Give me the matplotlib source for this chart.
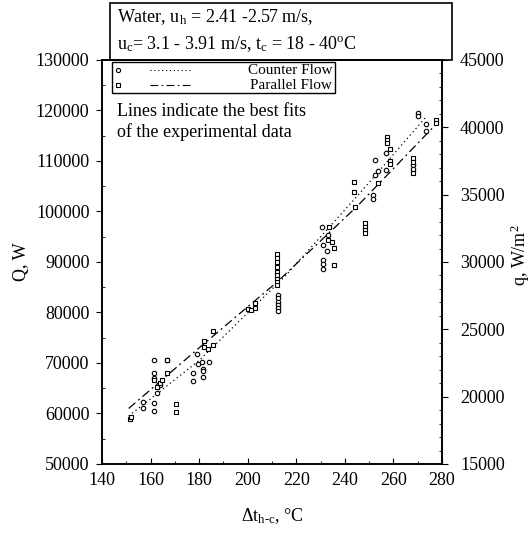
import matplotlib
matplotlib.use("Agg")
import matplotlib.pyplot as plt
from matplotlib.patches import Rectangle
from matplotlib.lines import Line2D

plt.rcParams['font.family'] = ['Liberation Serif', 'DejaVu Serif']
plt.rcParams['mathtext.fontset'] = 'custom'
plt.rcParams['mathtext.rm'] = 'Liberation Serif'
plt.rcParams['mathtext.it'] = 'Liberation Serif:italic'

# ---- data ----
counter_dt = [156.8, 156.8, 161.5, 161.5, 161.5, 161.5, 161.5, 166.7, 162.6, 164.0,
              177.5, 177.5, 179.0, 179.4, 181.2, 183.9, 181.5, 181.5, 181.6,
              212.4, 212.4, 212.4, 212.4, 212.4, 212.4,
              230.4, 230.8, 230.8, 230.8, 230.8, 233.1, 232.6,
              252.6, 253.5, 252.4, 251.4, 251.4, 257.0, 257.0, 268.0, 268.0,
              270.3, 270.3, 273.5, 273.5]
counter_Q = [62300, 61000, 70500, 68100, 62100, 60500, 67000, 70500, 64000, 65600,
             68000, 66500, 71800, 69800, 70100, 70100, 68900, 68500, 67300,
             83500, 82800, 82100, 81500, 80800, 80200,
             96900, 93400, 90400, 89600, 88700, 95300, 92100,
             110200, 108000, 107200, 103300, 102400, 111600, 108200, 109200, 108500,
             119600, 118900, 117300, 116000]

parallel_dt = [151.5, 151.8, 161.5, 166.7, 166.7, 162.7, 163.8, 164.8, 170.6, 170.6,
               181.8, 181.8, 183.8, 185.9, 185.9, 200.0, 201.4, 202.8, 203.2,
               212.2, 212.2, 212.2, 212.2, 212.2, 212.2, 212.2, 212.2, 212.2,
               233.5, 233.1, 234.5, 235.6, 235.6,
               243.9, 243.9, 244.3, 248.3, 248.3, 248.3, 248.3,
               253.8, 257.2, 257.2, 257.2, 258.7, 258.7, 258.7,
               268.0, 268.0, 268.0, 277.6, 277.6]
parallel_Q = [58900, 59300, 66600, 70500, 68000, 65200, 66100, 66600, 61800, 60200,
              74300, 73200, 72800, 76300, 73600, 80600, 80500, 81800, 80800,
              91500, 90700, 90000, 89000, 88000, 87400, 86600, 86100, 85400,
              96900, 94300, 94000, 92800, 89400,
              105800, 103800, 100900, 97700, 97000, 96300, 95800,
              105600, 114800, 114100, 113500, 112300, 110000, 109500,
              110500, 109900, 107700, 118100, 117500]

counter_fit_dt = [151, 180, 215, 245, 273]
counter_fit_Q = [59500, 70500, 87000, 103000, 118500]
parallel_fit_dt = [151, 180, 212, 245, 277]
parallel_fit_Q = [61000, 73000, 86000, 101000, 117000]

W, H = 532, 535
fig = plt.figure(figsize=(W / 100, H / 100), dpi=100)

def fx(px):
    return px / W

def fy(py):
    return 1 - py / H

ax = fig.add_axes([fx(102), fy(464), fx(442) - fx(102), fy(60) - fy(464)])
ax.set_xlim(140, 280)
ax.set_ylim(50000, 130000)

ax.plot(counter_fit_dt, counter_fit_Q, color='black', lw=0.9, linestyle=(0, (1, 2.5)))
ax.plot(parallel_fit_dt, parallel_fit_Q, color='black', lw=0.9,
        linestyle=(0, (7, 3, 1.5, 3)))
ax.plot(counter_dt, counter_Q, linestyle='none', marker='o', ms=3.2, mfc='white',
        mec='black', mew=0.8)
ax.plot(parallel_dt, parallel_Q, linestyle='none', marker='s', ms=3.2, mfc='white',
        mec='black', mew=0.8)

fs = 13
ax.set_xticks([140, 160, 180, 200, 220, 240, 260, 280])
ax.set_yticks(range(50000, 130001, 10000))
ax.tick_params(axis='x', direction='in', length=4, labelsize=fs, pad=6)
ax.tick_params(axis='y', direction='out', length=4, labelsize=fs, pad=5)
ax.set_xticks(range(140, 281, 10), minor=True)
ax.set_yticks(range(50000, 130001, 5000), minor=True)
ax.tick_params(which='minor', direction='in', length=2)
for s in ax.spines.values():
    s.set_linewidth(1.2)

ax.set_xlabel(r'$\Delta$t$_{\mathrm{h\text{-}c}}$, °C', fontsize=fs, labelpad=12)
ax.set_ylabel('Q, W', fontsize=fs, labelpad=4)

ax2 = ax.twinx()
ax2.set_ylim(15000, 45000)
ax2.set_yticks(range(15000, 45001, 5000))
ax2.set_yticks(range(15000, 45001, 1000), minor=True)
ax2.tick_params(axis='y', direction='out', length=4, labelsize=fs, pad=9)
ax2.tick_params(which='minor', direction='in', length=2)
for s in ax2.spines.values():
    s.set_linewidth(1.2)
fig.text(fx(520), fy(255), r'q, W/m$^{\mathrm{2}}$', fontsize=fs, rotation=90,
         ha='center', va='center')

# Title box
fig.patches.append(Rectangle((fx(110), fy(60)), fx(452) - fx(110), fy(3) - fy(60),
                             transform=fig.transFigure, fill=False, lw=1.2,
                             edgecolor='black'))
fig.text(fx(117), fy(17), r'Water, u$_{\mathrm{h}}$ = 2.41 -2.57 m/s,', fontsize=fs,
         va='center', ha='left')
fig.text(fx(117), fy(44), r'u$_{\mathrm{c}}$= 3.1 - 3.91 m/s, t$_{\mathrm{c}}$ = 18 - 40$^{\mathrm{o}}$C',
         fontsize=fs, va='center', ha='left')

# Legend box
fig.patches.append(Rectangle((fx(112), fy(93)), fx(335) - fx(112), fy(62) - fy(93),
                             transform=fig.transFigure, fill=False, lw=1.0,
                             edgecolor='black'))
fig.lines.append(Line2D([fx(118)], [fy(70)], transform=fig.transFigure, marker='o',
                        ms=3.0, mfc='white', mec='black', mew=0.8, linestyle='none'))
fig.lines.append(Line2D([fx(150), fx(190)], [fy(70), fy(70)], transform=fig.transFigure,
                        color='black', lw=0.8, linestyle=(0, (1, 2.5))))
fig.lines.append(Line2D([fx(118)], [fy(85)], transform=fig.transFigure, marker='s',
                        ms=3.0, mfc='white', mec='black', mew=0.8, linestyle='none'))
fig.lines.append(Line2D([fx(150), fx(190)], [fy(85), fy(85)], transform=fig.transFigure,
                        color='black', lw=0.8, linestyle=(0, (7, 3, 1.5, 3))))
fig.text(fx(332), fy(70), 'Counter Flow', fontsize=11, ha='right', va='center')
fig.text(fx(332), fy(85.5), 'Parallel Flow', fontsize=11, ha='right', va='center')

fig.text(fx(117), fy(111), 'Lines indicate the best fits', fontsize=fs, ha='left', va='center')
fig.text(fx(117), fy(132), 'of the experimental data', fontsize=fs, ha='left', va='center')

fig.savefig('out.png', dpi=100)
